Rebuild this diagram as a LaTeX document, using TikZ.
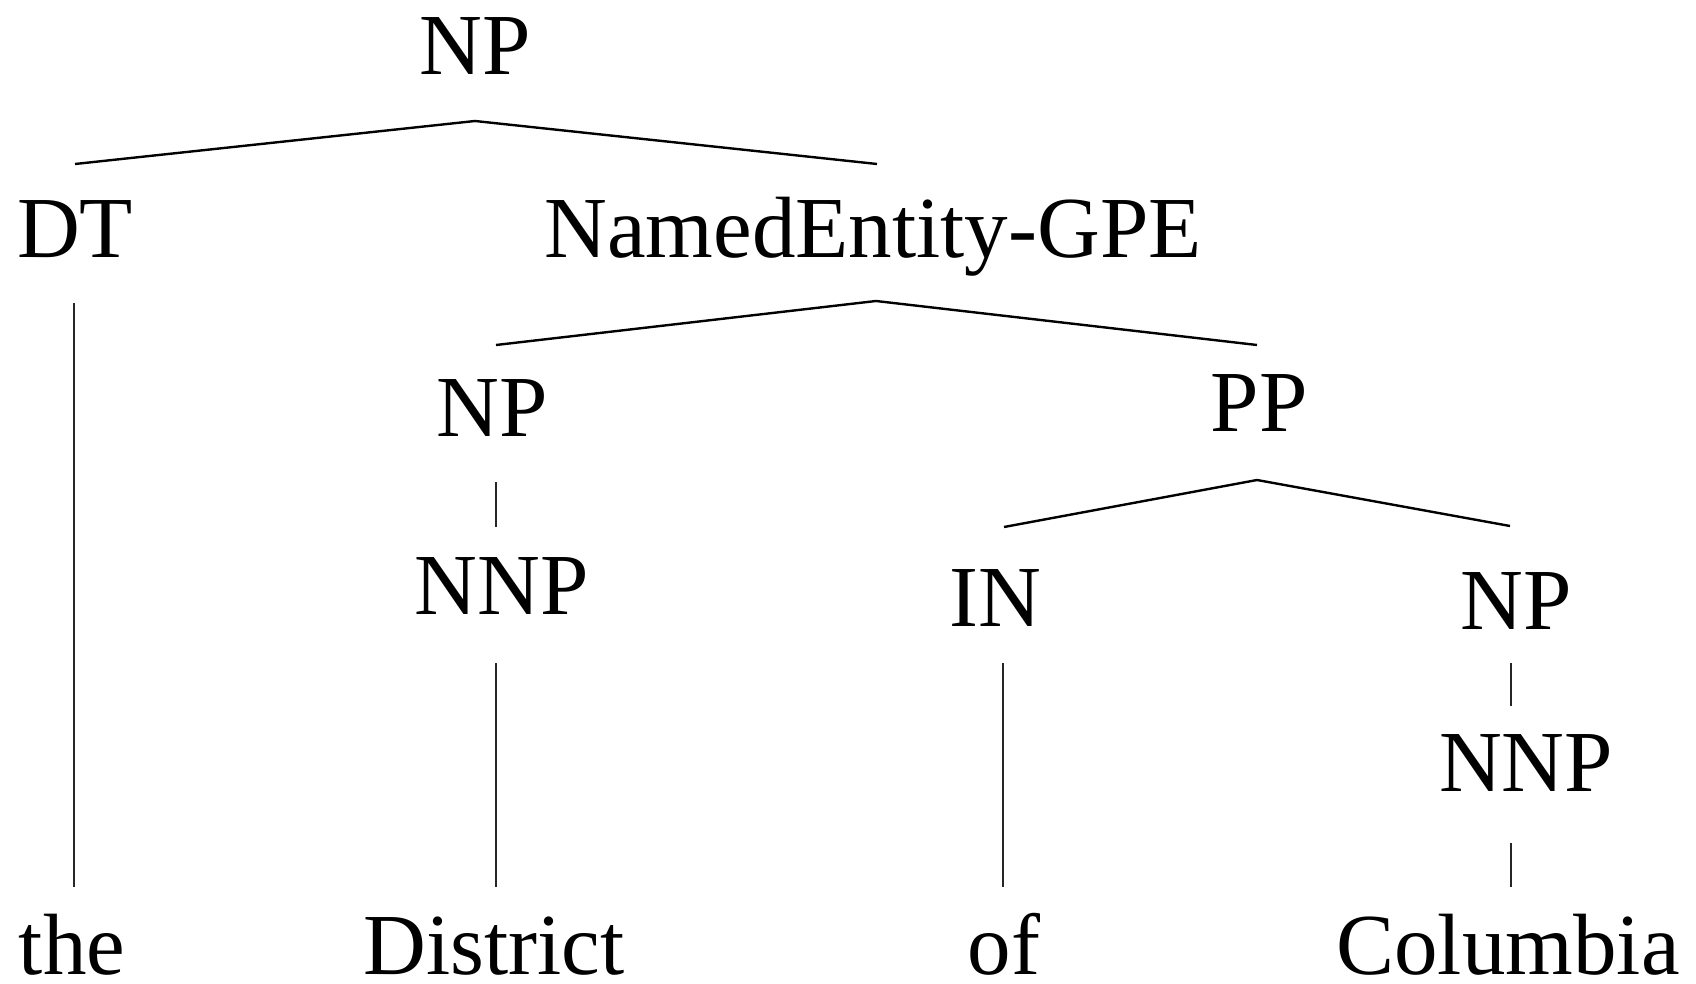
\documentclass[tikz,border=0pt]{standalone}
\usepackage{fontspec}
\setmainfont{Liberation Serif}
\usetikzlibrary{calc}
\begin{document}
\begin{tikzpicture}[x=0.5pt,y=-0.5pt,
  lbl/.style={anchor=base,inner sep=0pt,font=\fontsize{43.5}{52}\selectfont},
  branch/.style={line width=1.2pt,black},
  stem/.style={line width=0.7pt,black!85}]
\useasboundingbox (0,0) rectangle (1696,984);
% labels of the tree
\node[lbl] (np0)  at (475,75)   {NP};
\node[lbl] (dt)   at (75,257)   {DT};
\node[lbl] (ne)   at (873,257)  {NamedEntity-GPE};
\node[lbl] (np1)  at (492,436)  {NP};
\node[lbl] (pp)   at (1259,431) {PP};
\node[lbl] (nnp1) at (502,614)  {NNP};
\node[lbl] (in)   at (995,626)  {IN};
\node[lbl] (np2)  at (1516,629) {NP};
\node[lbl] (nnp2) at (1526,791) {NNP};
\node[lbl] (w1)   at (72,974)   {the};
\node[lbl] (w2)   at (494,974)  {District};
\node[lbl] (w3)   at (1004,974) {of};
\node[lbl] (w4)   at (1508,974) {Columbia};
% branching edges
\draw[branch] ($(dt.base)+(0,-93)$) -- ($(np0.base)+(0,46)$) -- ($(ne.base)+(4,-93)$);
\draw[branch] ($(np1.base)+(4,-91)$) -- ($(ne.base)+(3,44)$) -- ($(pp.base)+(-2,-86)$);
\draw[branch] ($(in.base)+(9,-99)$) -- ($(pp.base)+(-2,49)$) -- ($(np2.base)+(-6,-103)$);
% unary edges
\draw[stem] ($(dt.base)+(-1,46)$) -- ($(w1.base)+(2,-87)$);
\draw[stem] ($(np1.base)+(4,46)$) -- ($(nnp1.base)+(-6,-87)$);
\draw[stem] ($(nnp1.base)+(-6,49)$) -- ($(w2.base)+(2,-87)$);
\draw[stem] ($(in.base)+(8,37)$) -- ($(w3.base)+(-1,-87)$);
\draw[stem] ($(np2.base)+(-5,34)$) -- ($(nnp2.base)+(-15,-85)$);
\draw[stem] ($(nnp2.base)+(-15,52)$) -- ($(w4.base)+(3,-87)$);
\end{tikzpicture}
\end{document}
